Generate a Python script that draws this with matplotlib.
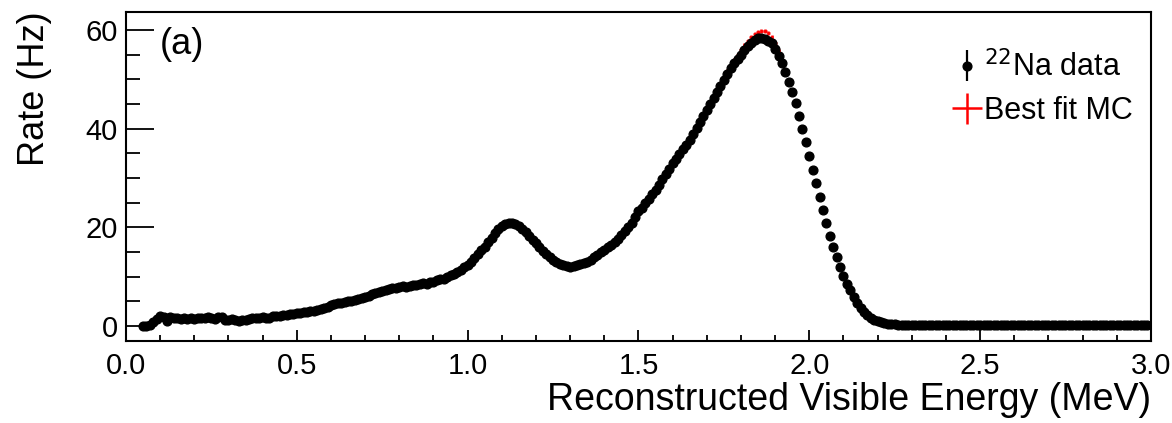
import numpy as np
import matplotlib
matplotlib.use("Agg")
import matplotlib.pyplot as plt

plt.rcParams['font.family'] = ['Liberation Sans', 'DejaVu Sans']

# bin centres: 0.01 MeV bins from 0.05 to 2.99 MeV
e_first = 0.05
e_step = 0.01

# 22Na data (Hz), one row per 0.1 MeV
rate_data = [
    0.0, 0.0, 0.1, 0.7, 1.4,
    2.1, 1.8, 1.0, 1.8, 1.6, 1.6, 1.5, 1.6, 1.5, 1.6,
    1.5, 1.6, 1.7, 1.6, 1.9, 1.6, 1.5, 1.9, 1.8, 1.3,
    1.2, 1.4, 1.3, 1.1, 1.3, 1.2, 1.4, 1.6, 1.7, 1.6,
    1.8, 1.6, 1.7, 2.0, 2.0, 2.1, 2.3, 2.2, 2.4, 2.5,
    2.7, 2.6, 2.9, 2.8, 3.0, 3.1, 3.3, 3.4, 3.6, 3.9,
    4.3, 4.4, 4.6, 4.7, 4.8, 5.0, 5.1, 5.3, 5.5, 5.7,
    5.9, 6.1, 6.4, 6.6, 6.8, 7.1, 7.2, 7.4, 7.6, 7.7,
    7.9, 8.1, 7.9, 8.0, 8.2, 8.3, 8.5, 8.7, 8.6, 8.9,
    9.0, 9.3, 9.5, 9.6, 10.0, 10.3, 10.6, 11.0, 11.4, 11.9,
    12.4, 13.0, 13.7, 14.5, 15.3, 16.1, 17.0, 17.9, 18.8, 19.7,
    20.3, 20.6, 20.8, 20.8, 20.6, 20.3, 19.7, 19.0, 18.3, 17.5,
    16.8, 16.0, 15.2, 14.5, 13.9, 13.4, 13.0, 12.6, 12.3, 12.1,
    12.0, 12.1, 12.3, 12.5, 12.7, 13.0, 13.4, 13.9, 14.4, 14.9,
    15.4, 15.9, 16.5, 17.1, 17.7, 18.4, 19.2, 20.0, 20.9, 22.0,
    23.2, 24.0, 24.9, 25.8, 26.7, 27.6, 28.6, 29.7, 30.8, 31.9,
    33.0, 33.9, 34.8, 35.8, 36.7, 37.7, 38.9, 40.1, 41.3, 42.5,
    43.8, 45.0, 46.2, 47.4, 48.7, 49.9, 51.1, 52.2, 53.2, 54.1,
    55.0, 55.9, 56.7, 57.3, 57.9, 58.3, 58.4, 58.2, 57.8, 57.3,
    56.1, 54.7, 53.2, 51.5, 49.5, 47.4, 45.1, 42.6, 40.0, 37.3,
    34.5, 31.7, 28.9, 26.1, 23.4, 20.8, 18.3, 16.0, 13.9, 11.9,
    10.1, 8.6, 7.2, 5.9, 4.7, 3.7, 2.9, 2.2, 1.7, 1.3,
    1.0, 0.8, 0.6, 0.45, 0.35, 0.3, 0.25, 0.25, 0.2, 0.2,
    0.2, 0.2, 0.15, 0.2, 0.15, 0.15, 0.15, 0.15, 0.1, 0.15,
    0.1, 0.15, 0.1, 0.1, 0.15, 0.1, 0.1, 0.1, 0.15, 0.1,
    0.1, 0.1, 0.1, 0.15, 0.1, 0.1, 0.1, 0.1, 0.1, 0.1,
    0.1, 0.1, 0.15, 0.1, 0.1, 0.1, 0.1, 0.1, 0.1, 0.1,
    0.1, 0.1, 0.1, 0.1, 0.1, 0.15, 0.1, 0.1, 0.1, 0.1,
    0.1, 0.1, 0.1, 0.1, 0.1, 0.1, 0.1, 0.1, 0.1, 0.1,
    0.1, 0.1, 0.1, 0.1, 0.1, 0.1, 0.1, 0.1, 0.1, 0.1,
]
err_data = 0.3

# best fit MC (Hz)
rate_mc = [
    0.0, 0.0, 0.2, 0.8, 1.5,
    1.9, 1.8, 1.6, 1.6, 1.6, 1.6, 1.6, 1.6, 1.6, 1.6,
    1.6, 1.6, 1.6, 1.6, 1.6, 1.6, 1.6, 1.5, 1.5, 1.4,
    1.4, 1.4, 1.4, 1.4, 1.4, 1.4, 1.5, 1.5, 1.6, 1.6,
    1.7, 1.7, 1.8, 1.9, 2.0, 2.1, 2.2, 2.3, 2.4, 2.5,
    2.6, 2.7, 2.8, 2.9, 3.0, 3.1, 3.3, 3.4, 3.6, 3.9,
    4.2, 4.4, 4.5, 4.7, 4.9, 5.0, 5.2, 5.4, 5.6, 5.8,
    6.0, 6.2, 6.4, 6.6, 6.8, 7.0, 7.2, 7.4, 7.5, 7.7,
    7.8, 7.9, 8.0, 8.1, 8.2, 8.3, 8.5, 8.6, 8.8, 8.9,
    9.1, 9.3, 9.5, 9.7, 10.0, 10.3, 10.6, 11.0, 11.4, 11.9,
    12.4, 13.0, 13.7, 14.5, 15.3, 16.2, 17.1, 18.0, 18.9, 19.7,
    20.3, 20.7, 20.9, 20.9, 20.7, 20.3, 19.7, 19.0, 18.2, 17.4,
    16.6, 15.8, 15.1, 14.4, 13.8, 13.3, 12.9, 12.6, 12.3, 12.1,
    12.0, 12.1, 12.3, 12.5, 12.8, 13.1, 13.5, 13.9, 14.4, 14.9,
    15.4, 16.0, 16.6, 17.2, 17.8, 18.5, 19.3, 20.1, 21.0, 22.0,
    23.0, 24.0, 24.9, 25.9, 26.8, 27.8, 28.8, 29.9, 31.0, 32.0,
    33.1, 34.1, 35.1, 36.1, 37.1, 38.1, 39.2, 40.4, 41.6, 42.8,
    44.0, 45.3, 46.5, 47.8, 49.0, 50.3, 51.6, 52.8, 54.0, 55.0,
    56.0, 57.0, 57.8, 58.5, 59.1, 59.6, 59.8, 59.7, 59.3, 58.5,
    57.3, 55.7, 53.9, 51.9, 49.7, 47.4, 45.0, 42.5, 39.9, 37.3,
    34.6, 31.8, 29.0, 26.2, 23.5, 20.9, 18.4, 16.0, 13.8, 11.8,
    10.0, 8.4, 7.0, 5.7, 4.6, 3.6, 2.8, 2.1, 1.6, 1.2,
    0.9, 0.7, 0.5, 0.4, 0.3, 0.25, 0.2, 0.2, 0.2, 0.15,
    0.15, 0.15, 0.15, 0.15, 0.15, 0.15, 0.1, 0.1, 0.1, 0.1,
    0.1, 0.1, 0.1, 0.1, 0.1, 0.1, 0.1, 0.1, 0.1, 0.1,
    0.1, 0.1, 0.1, 0.1, 0.1, 0.1, 0.1, 0.1, 0.1, 0.1,
    0.1, 0.1, 0.1, 0.1, 0.1, 0.1, 0.1, 0.1, 0.1, 0.1,
    0.1, 0.1, 0.1, 0.1, 0.1, 0.1, 0.1, 0.1, 0.1, 0.1,
    0.1, 0.1, 0.1, 0.1, 0.1, 0.1, 0.1, 0.1, 0.1, 0.1,
    0.1, 0.1, 0.1, 0.1, 0.1, 0.1, 0.1, 0.1, 0.1, 0.1,
]
err_mc = 0.4

energy = e_first + e_step * np.arange(len(rate_data))

fig = plt.figure(figsize=(11.72, 4.23), dpi=100)
ax = fig.add_axes([0.1075, 0.194, 0.8745, 0.778])

mc = ax.errorbar(energy, rate_mc, xerr=e_step / 2, yerr=err_mc, fmt='none',
                 ecolor='red', elinewidth=1.8, label='Best fit MC', zorder=2)
dat = ax.errorbar(energy, rate_data, yerr=err_data, fmt='o', color='black',
                  ms=6.3, elinewidth=1.6, capsize=0,
                  label='$^{22}$Na data', zorder=3)

ax.set_xlim(0, 3.0)
ax.set_ylim(-3.04, 63.66)
ax.set_xticks(np.arange(0, 3.01, 0.5))
ax.set_xticks(np.arange(0, 3.01, 0.1), minor=True)
ax.set_yticks([0, 20, 40, 60])
ax.set_yticks(np.arange(0, 61, 5), minor=True)
ax.xaxis.set_major_formatter(matplotlib.ticker.FormatStrFormatter('%.1f'))

ax.tick_params(axis='both', which='both', direction='in', top=False, right=False,
               labelsize=21, width=1.3, color='black')
ax.tick_params(axis='y', which='major', length=20, pad=6)
ax.tick_params(axis='y', which='minor', length=10)
ax.tick_params(axis='x', which='major', length=8, pad=8)
ax.tick_params(axis='x', which='minor', length=4)
for s in ax.spines.values():
    s.set_linewidth(1.5)

ax.set_xlabel('Reconstructed Visible Energy (MeV)', fontsize=27, loc='right')
ax.set_ylabel('Rate (Hz)', fontsize=26, loc='top')
ax.xaxis.set_label_coords(1.0, -0.125)
ax.yaxis.set_label_coords(-0.072, 1.0)

ax.text(0.033, 0.955, '(a)', transform=ax.transAxes, fontsize=26,
        ha='left', va='top')

ax.legend(handles=[dat, mc], loc='upper right', frameon=False, fontsize=22,
          handlelength=0.9, handletextpad=0.1, labelspacing=0.42,
          bbox_to_anchor=(0.994, 0.919), borderaxespad=0)

fig.savefig('out.png', dpi=100)
